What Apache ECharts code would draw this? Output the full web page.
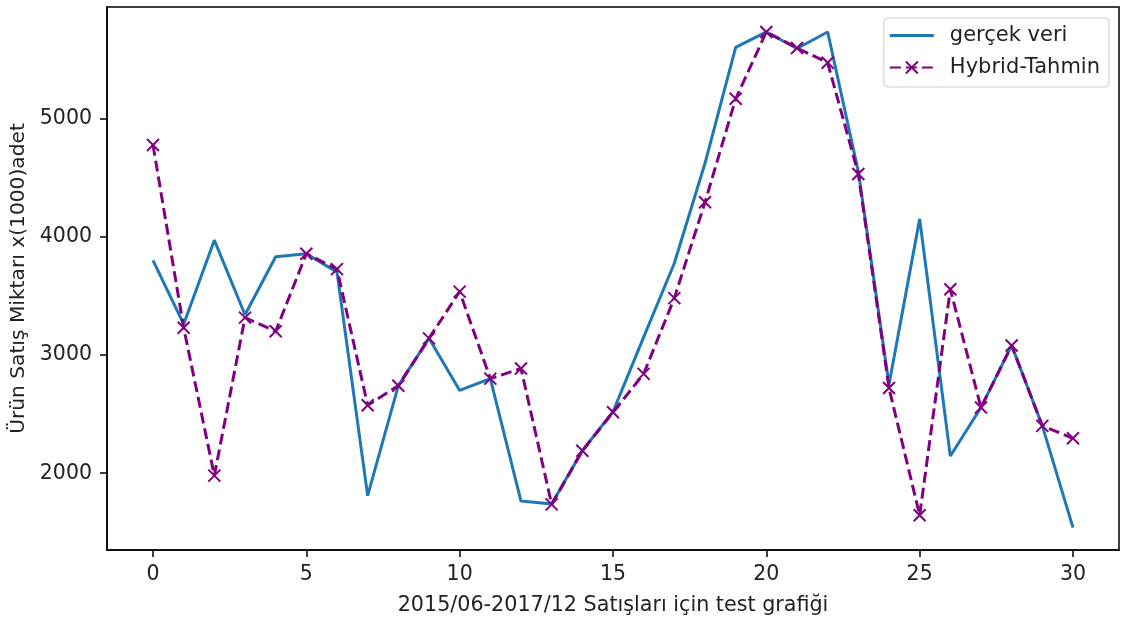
<!DOCTYPE html>
<html>
<head>
<meta charset="utf-8">
<script src="https://cdn.jsdelivr.net/npm/echarts@6/dist/echarts.min.js"></script>
<style>
html,body{margin:0;padding:0;background:#fff;}
#chart{width:1122px;height:621px;}
</style>
</head>
<body>
<div id="chart"></div>
<script>
// ---- data ----
const xIndex = [0,1,2,3,4,5,6,7,8,9,10,11,12,13,14,15,16,17,18,19,20,21,22,23,24,25,26,27,28,29,30];
const gercekVeri = [3800,3260,3970,3340,3830,3855,3700,1810,2740,3140,2700,2800,1765,1740,2190,2520,3150,3775,4620,5600,5730,5590,5730,4550,2750,4150,2145,2555,3080,2400,1540];
const hybridTahmin = [4775,3230,1980,3315,3200,3855,3725,2575,2740,3140,3535,2800,2885,1737,2190,2515,2840,3480,4290,5165,5730,5595,5470,4530,2720,1645,3555,2555,3080,2400,2295];
const xTickValues = [0,5,10,15,20,25,30];
const yTickValues = [2000,3000,4000,5000];
const seriesNames = ['gerçek veri','Hybrid-Tahmin'];
const xAxisTitle = '2015/06-2017/12 Satışları için test grafiği';
const yAxisTitle = 'Ürün Satış Miktarı x(1000)adet';

const pairs = (ys) => xIndex.map((x,i)=>[x, ys[i]]);
const FONT = 'DejaVu Sans';
const BLUE = '#1f77b4';
const PURPLE = '#800080';
const chart = echarts.init(document.getElementById('chart'), null, {renderer:'canvas'});
chart.setOption({
  animation:false,
  backgroundColor:'#fff',
  textStyle:{fontFamily:FONT},
  grid:{left:107, right:3, top:7, bottom:71, show:true, borderColor:'#000', borderWidth:1.5, backgroundColor:'transparent', containLabel:false},
  legend:{
    orient:'vertical', right:13, top:18, align:'left',
    data:[
      {name:seriesNames[0], icon:'path://M0,0L44,0L44,3L0,3Z', itemStyle:{color:BLUE}},
      {name:seriesNames[1]}
    ],
    itemWidth:44, itemHeight:15, itemGap:11,
    symbolKeepAspect:true,
    padding:[7,9,9,5],
    borderColor:'#ccc', borderWidth:1, borderRadius:4,
    backgroundColor:'rgba(255,255,255,0.8)',
    textStyle:{fontFamily:FONT, fontSize:21, color:'#222', padding:[0,0,0,11], lineHeight:20}
  },
  xAxis:{
    type:'value', min:-1.5, max:31.5,
    name:xAxisTitle, nameLocation:'middle', nameGap:45,
    nameTextStyle:{fontFamily:FONT, fontSize:20.7, color:'#222'},
    axisLine:{show:true, onZero:false, lineStyle:{color:'#000', width:1.5}},
    axisTick:{show:true, length:7, lineStyle:{color:'#000', width:1.5}, customValues:xTickValues},
    axisLabel:{fontFamily:FONT, fontSize:20.5, color:'#222', margin:14, customValues:xTickValues, formatter:(v)=>String(v)},
    splitLine:{show:false}
  },
  yAxis:{
    type:'value', min:1351, max:5941,
    name:yAxisTitle, nameLocation:'middle', nameGap:75,
    nameTextStyle:{fontFamily:FONT, fontSize:20.2, color:'#222'},
    axisLine:{show:true, onZero:false, lineStyle:{color:'#000', width:1.5}},
    axisTick:{show:true, length:7, lineStyle:{color:'#000', width:1.5}, customValues:yTickValues},
    axisLabel:{fontFamily:FONT, fontSize:20.5, color:'#222', margin:15, customValues:yTickValues, formatter:(v)=>String(v)},
    splitLine:{show:false}
  },
  series:[
    {
      name:seriesNames[0], type:'line', data:pairs(gercekVeri),
      symbol:'none', color:BLUE,
      lineStyle:{color:BLUE, width:3}
    },
    {
      name:seriesNames[1], type:'line', data:pairs(hybridTahmin),
      symbol:'path://M0,0L12,12M12,0L0,12', symbolSize:12, showSymbol:true,
      color:PURPLE,
      itemStyle:{color:PURPLE, borderColor:PURPLE, borderWidth:2},
      lineStyle:{color:PURPLE, width:3, type:[11,5]}
    }
  ]
});
</script>
</body>
</html>
